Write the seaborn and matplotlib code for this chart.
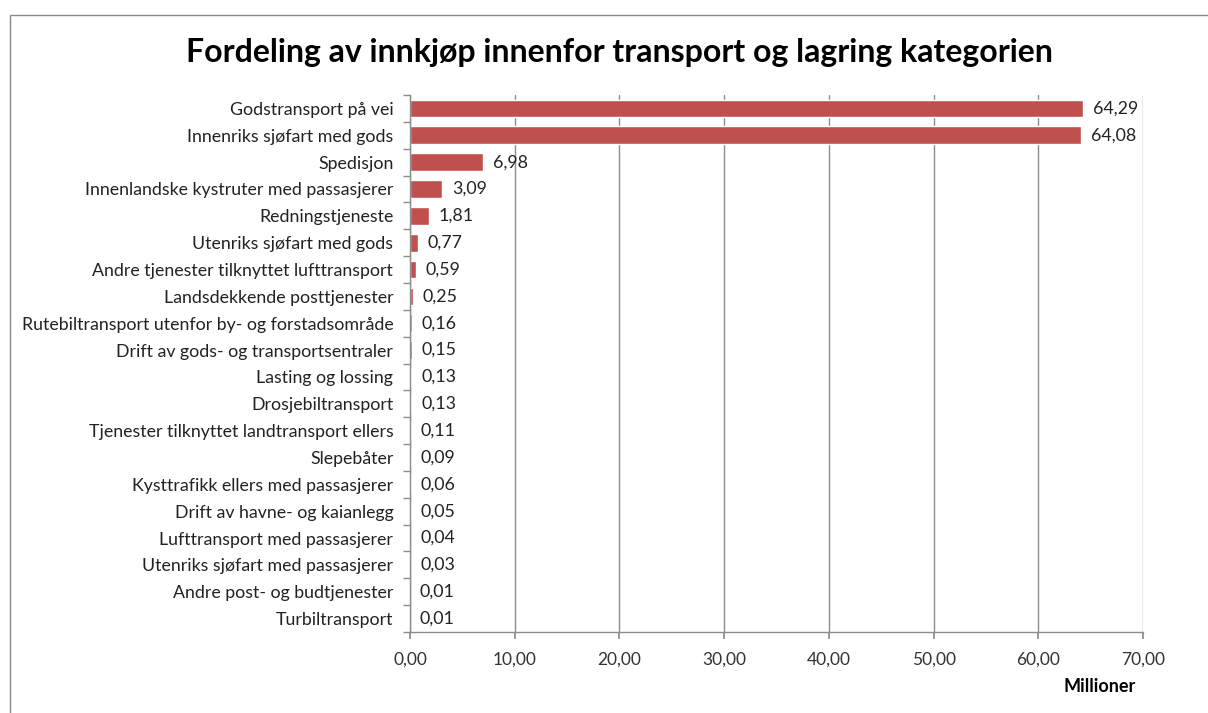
import matplotlib
matplotlib.use("Agg")
import matplotlib.pyplot as plt
import seaborn as sns
import pandas as pd
from matplotlib.patches import Rectangle
from matplotlib.ticker import FuncFormatter, FixedLocator

categories = [
    "Godstransport på vei",
    "Innenriks sjøfart med gods",
    "Spedisjon",
    "Innenlandske kystruter med passasjerer",
    "Redningstjeneste",
    "Utenriks sjøfart med gods",
    "Andre tjenester tilknyttet lufttransport",
    "Landsdekkende posttjenester",
    "Rutebiltransport utenfor by- og forstadsområde",
    "Drift av gods- og transportsentraler",
    "Lasting og lossing",
    "Drosjebiltransport",
    "Tjenester tilknyttet landtransport ellers",
    "Slepebåter",
    "Kysttrafikk ellers med passasjerer",
    "Drift av havne- og kaianlegg",
    "Lufttransport med passasjerer",
    "Utenriks sjøfart med passasjerer",
    "Andre post- og budtjenester",
    "Turbiltransport",
]
values = [64.29, 64.08, 6.98, 3.09, 1.81, 0.77, 0.59, 0.25, 0.16, 0.15,
          0.13, 0.13, 0.11, 0.09, 0.06, 0.05, 0.04, 0.03, 0.01, 0.01]
x_ticks = [0, 10, 20, 30, 40, 50, 60, 70]

title = "Fordeling av innkjøp innenfor transport og lagring kategorien"
x_unit = "Millioner"

sns.set_theme(style="white")
plt.rcParams['font.family'] = ['Lato', 'DejaVu Sans']

df = pd.DataFrame({"cat": categories, "val": values})

fig = plt.figure(figsize=(12.08, 7.13), dpi=100)
ax = fig.add_axes([410/1208, 1-632/713, (1143-410)/1208, (632-95)/713])

sns.barplot(data=df, y="cat", x="val", orient="h", color="#C0504D",
            saturation=1, width=0.66, ax=ax)

ax.set_xlim(0, 70)
ax.set_ylim(len(categories)-0.5, -0.5)
ax.xaxis.set_major_locator(FixedLocator(x_ticks))
ax.xaxis.set_major_formatter(FuncFormatter(lambda v, p: f"{v:.2f}".replace(".", ",")))
ax.set_xlabel("")
ax.set_ylabel("")

grid_c = "#8c8c8c"
ax.grid(axis="x", color=grid_c, linewidth=1)
ax.grid(axis="y", visible=False)
ax.set_axisbelow(True)
for s in ["top", "right"]:
    ax.spines[s].set_visible(False)
for s in ["left", "bottom"]:
    ax.spines[s].set_color(grid_c)
    ax.spines[s].set_linewidth(1)

ax.tick_params(axis="x", which="major", direction="out", length=5, color=grid_c,
               labelsize=12.5, labelcolor="#333333", bottom=True, pad=9)
ax.tick_params(axis="y", which="major", length=0, labelsize=12.8, labelcolor="#222222", pad=12)
ax.yaxis.set_minor_locator(FixedLocator([i - 0.5 for i in range(len(categories)+1)]))
ax.tick_params(axis="y", which="minor", direction="out", length=5, color=grid_c, left=True)

labels = [f"{v:.2f}".replace(".", ",") for v in values]
ax.bar_label(ax.containers[0], labels=labels, padding=7, fontsize=12.8, color="#222222")

fig.suptitle(title, x=0.5125, y=0.927, fontsize=23, fontweight="bold", color="black",
             va="center")
fig.text(1100/1208, 1-686/713, x_unit, ha="center", va="center", fontsize=13,
         fontweight="bold", color="black")

fig.add_artist(Rectangle((9.5/1208, -0.1), 1.2, 1.1 - 15/713 + 0.0, transform=fig.transFigure,
                         fill=False, edgecolor="#8a8a8a", linewidth=1))

fig.savefig("out.png", dpi=100, facecolor="white")
